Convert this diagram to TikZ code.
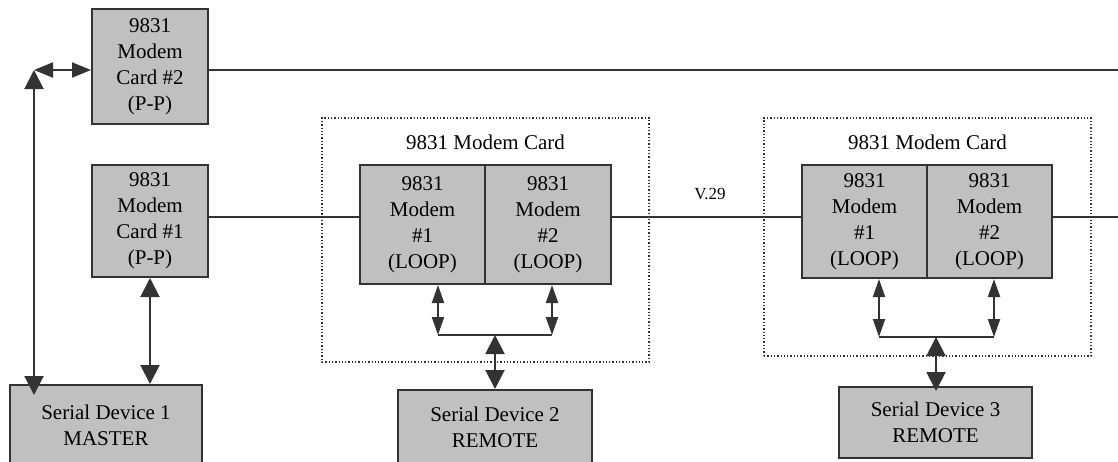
\documentclass[tikz,border=0pt]{standalone}
\usepackage{fontspec}
\setmainfont{Liberation Serif}
\usetikzlibrary{arrows.meta}
\definecolor{boxfill}{HTML}{C0C0C0}
\definecolor{ink}{HTML}{333333}
\begin{document}
\begin{tikzpicture}[x=1pt,y=-1pt,
  font=\fontsize{21}{26}\selectfont,
  block/.style={draw=ink,fill=boxfill,line width=2pt,rectangle,align=center,inner sep=0pt},
  wire/.style={draw=ink,line width=2pt},
  bigarr/.style={wire,{Triangle[length=19pt,width=19pt]}-{Triangle[length=19pt,width=19pt]}},
  smallarr/.style={wire,{Triangle[length=18pt,width=12pt]}-{Triangle[length=18pt,width=12pt]}},
  card/.style={draw=ink,line width=1.3pt,dotted,rectangle,inner sep=0pt}]
\useasboundingbox (0,0) rectangle (1118,461);
% dotted containers
\node[card,minimum width=327pt,minimum height=244pt] (c1) at (485.5,240) {};
\node[card,minimum width=327pt,minimum height=238pt] (c2) at (927.5,237) {};
\node (t1) at (485.5,142) {9831 Modem Card};
\node (t2) at (927.5,142) {9831 Modem Card};
% left cards
\node[block,minimum width=116pt,minimum height=115pt] (card2) at (150,66.5) {9831\\Modem\\Card \#2\\(P-P)};
\node[block,minimum width=116pt,minimum height=112pt] (card1) at (150,221) {9831\\Modem\\Card \#1\\(P-P)};
% modem pairs
\node[block,minimum width=125pt,minimum height=119pt] (m1a) at (422.5,224.5) {9831\\Modem\\\#1\\(LOOP)};
\node[block,minimum width=126pt,minimum height=119pt] (m2a) at (548,224.5) {9831\\Modem\\\#2\\(LOOP)};
\node[block,minimum width=125pt,minimum height=113pt] (m1b) at (864.5,221.5) {9831\\Modem\\\#1\\(LOOP)};
\node[block,minimum width=125pt,minimum height=113pt] (m2b) at (989.5,221.5) {9831\\Modem\\\#2\\(LOOP)};
% serial devices
\node[block,minimum width=192pt,minimum height=80pt] (s1) at (106,425) {Serial Device 1\\MASTER};
\node[block,minimum width=194pt,minimum height=75pt] (s2) at (495,427.5) {Serial Device 2\\REMOTE};
\node[block,minimum width=193pt,minimum height=71pt] (s3) at (935.5,422.5) {Serial Device 3\\REMOTE};
% label
\node[font=\fontsize{17}{19}\selectfont] (v29) at (710,194) {V.29};
% coordinates
\coordinate (J) at (34,70);
\coordinate (Jd) at (34,395);
\coordinate (E2) at (1118,70);
\coordinate (row) at (0,217);
\coordinate (E1) at (1118,217);
\coordinate (b1L) at (438,335);
\coordinate (b1R) at (552,335);
\coordinate (b1M) at (495,335);
\coordinate (b2L) at (879,337);
\coordinate (b2R) at (994,337);
\coordinate (b2M) at (936,337);
% top line
\draw[wire] (card2.east |- E2) -- (E2);
\draw[wire,{Triangle[length=19pt,width=15pt]}-{Triangle[length=19pt,width=15pt]}] (J) -- (card2.west |- J);
\draw[bigarr] (J) -- (Jd);
\draw[bigarr] (card1.south) -- (card1.south |- s1.north);
% data row
\draw[wire] (card1.east |- row) -- (m1a.west |- row);
\draw[wire] (m2a.east |- row) -- (m1b.west |- row);
\draw[wire] (m2b.east |- row) -- (E1);
% card 1 bus
\draw[smallarr] (m1a.south -| b1L) -- (b1L);
\draw[smallarr] (m2a.south -| b1R) -- (b1R);
\draw[wire] (b1L) -- (b1R);
\draw[bigarr] (b1M) -- (s2.north -| b1M);
% card 2 bus
\draw[smallarr] (m1b.south -| b2L) -- (b2L);
\draw[smallarr] (m2b.south -| b2R) -- (b2R);
\draw[wire] (b2L) -- (b2R);
\draw[bigarr] (b2M) -- ([yshift=-5pt]s3.north -| b2M);
\end{tikzpicture}
\end{document}
